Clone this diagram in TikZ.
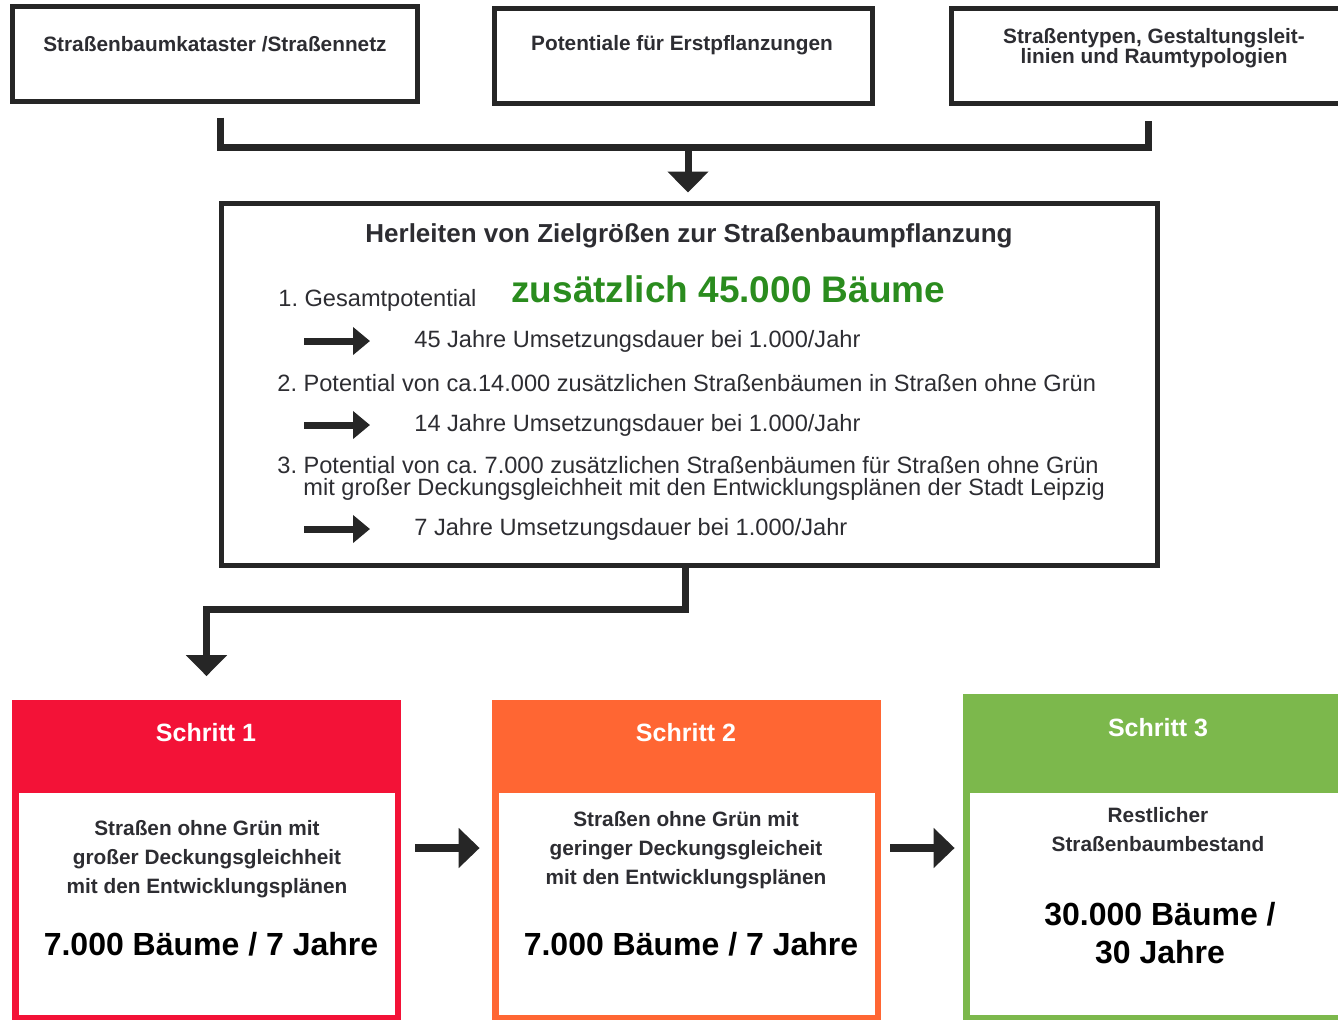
\documentclass[tikz,border=0pt]{standalone}
\usepackage{fontspec}
\setmainfont{Liberation Sans}
\usepackage{tikz}
\usetikzlibrary{arrows.meta, positioning, calc}
\usepackage{xcolor}
\definecolor{schrittrot}{RGB}{243,18,55}
\definecolor{schrittorange}{RGB}{255,102,51}
\definecolor{schrittgruen}{RGB}{124,184,76}
\definecolor{zielgruen}{RGB}{42,140,30}
\definecolor{textgrau}{RGB}{45,45,50}
\frenchspacing

\begin{document}
\begin{tikzpicture}[x=0.5pt, y=-0.5pt,
    topbox/.style={draw=black!85, line width=2.5pt, minimum width=#1, minimum height=47.5pt, inner sep=0pt},
    toptext/.style={font=\fontsize{10.4}{10}\selectfont\bfseries, text=textgrau, align=center, inner sep=0pt},
    headtext/.style={font=\fontsize{13}{15}\selectfont\bfseries, text=textgrau, inner sep=0pt},
    listtext/.style={font=\fontsize{11.8}{11}\selectfont, text=textgrau, align=left, inner sep=0pt, anchor=west},
    stepbox/.style={fill=#1, minimum width=194.5pt, minimum height=160pt, inner sep=0pt},
    stepbody/.style={fill=white, minimum width=188pt, minimum height=111pt, inner sep=0pt},
    schritt/.style={font=\fontsize{12.5}{14}\selectfont\bfseries, text=white, inner sep=0pt},
    steptext/.style={font=\fontsize{10.4}{14.5}\selectfont\bfseries, text=textgrau, align=center, inner sep=0pt},
    bigtext/.style={font=\fontsize{16}{19}\selectfont\bfseries, text=black, align=center, inner sep=0pt},
    conn/.style={draw=black!85, line width=3.5pt},
    bigarrow/.style={conn, -{Triangle[width=20pt,length=10.5pt]}},
    listarrow/.style={draw=black!85, line width=3.5pt, -{Triangle[width=13.5pt,length=8.5pt]}},
    steparrow/.style={draw=black!85, line width=4pt, -{Triangle[width=19.5pt,length=10.5pt]}}]
    \useasboundingbox (0,0) rectangle (1338,1019);

    % Grundlagen
    \node[topbox=202.5pt] (kataster) at (214.5,53.5) {};
    \node[topbox=189pt] (potential) at (683,55.5) {};
    \node[topbox=199.5pt] (typen) at (1150.5,55.5) {};
    \node[toptext] (katastertext) at (215,44) {Straßenbaumkataster /Straßennetz};
    \node[toptext] (potentialtext) at (682,45) {Potentiale für Erstpflanzungen};
    \node[toptext] (typentext) at (1154,48) {Straßentypen, Gestaltungsleit-\\linien und Raumtypologien};

    % Herleiten
    \node[draw=black!85, line width=2.5pt, minimum width=468pt, minimum height=181pt, inner sep=0pt] (ziel) at (689,384) {};
    \node[headtext] (zieltitel) at (689,236) {Herleiten von Zielgrößen zur Straßenbaumpflanzung};
    \node[listtext] (gesamt) at (278,300) {1. Gesamtpotential};
    \node[listtext, font=\fontsize{18.5}{20}\selectfont\bfseries, text=zielgruen] (zusatz) at (511,289) {zusätzlich 45.000 Bäume};
    \node[listtext] (dauer1) at (414,341) {45 Jahre Umsetzungsdauer bei 1.000/Jahr};
    \node[listtext] (ohnegruen) at (277,383) {2. Potential von ca.14.000 zusätzlichen Straßenbäumen in Straßen ohne Grün};
    \node[listtext] (dauer2) at (414,425) {14 Jahre Umsetzungsdauer bei 1.000/Jahr};
    \node[listtext] (deckung) at (277,478) {3. Potential von ca. 7.000 zusätzlichen Straßenbäumen für Straßen ohne Grün\\\hspace*{13pt}mit großer Deckungsgleichheit mit den Entwicklungsplänen der Stadt Leipzig};
    \node[listtext] (dauer3) at (414,529) {7 Jahre Umsetzungsdauer bei 1.000/Jahr};
    \foreach \d in {dauer1, dauer2, dauer3}
        \draw[listarrow] ([xshift=-55pt]\d.west) -- ([xshift=-22pt]\d.west);

    % Schritte
    \node[stepbox=schrittrot] (s1) at (206.5,859.5) {};
    \node[stepbox=schrittorange] (s2) at (686.5,859.5) {};
    \node[stepbox=schrittgruen, minimum width=198.5pt, minimum height=163pt] (s3) at (1161.5,857) {};
    \node[stepbody] (b1) at (207,904) {};
    \node[stepbody] (b2) at (687,904) {};
    \node[stepbody, minimum width=191.5pt] (b3) at (1161,904) {};
    \node[schritt] (h1) at (206,733) {Schritt 1};
    \node[schritt] (h2) at (686,733) {Schritt 2};
    \node[schritt] (h3) at (1158,728) {Schritt 3};
    \node[steptext] (t1) at (207,859) {Straßen ohne Grün mit\\großer Deckungsgleichheit\\mit den Entwicklungsplänen};
    \node[steptext] (t2) at (686,850) {Straßen ohne Grün mit\\geringer Deckungsgleicheit\\mit den Entwicklungsplänen};
    \node[steptext] (t3) at (1158,830) {Restlicher\\Straßenbaumbestand};
    \node[bigtext] (z1) at (211,944) {7.000 Bäume / 7 Jahre};
    \node[bigtext] (z2) at (691,944) {7.000 Bäume / 7 Jahre};
    \node[bigtext] (z3) at (1160,933) {30.000 Bäume /\\30 Jahre};

    % Verbindungen
    \draw[conn] ([xshift=2.75pt,yshift=-7pt]kataster.south) -- ++(0,30) -| ([xshift=-1.25pt,yshift=-7.5pt]typen.south);
    \coordinate (merge) at (688,145);
    \draw[bigarrow] (merge) -- ($(merge |- ziel.north)+(0,-8)$);
    \draw[bigarrow] ([xshift=-2pt]ziel.south) -- ++(0,42) -| ([yshift=11.5pt]s1.north);
    \draw[steparrow] ([xshift=7pt,yshift=5.75pt]s1.east) -- ([xshift=-6pt,yshift=5.75pt]s2.west);
    \draw[steparrow] ([xshift=4.5pt,yshift=5.75pt]s2.east) -- ([xshift=-4pt,yshift=4.5pt]s3.west);
\end{tikzpicture}
\end{document}
